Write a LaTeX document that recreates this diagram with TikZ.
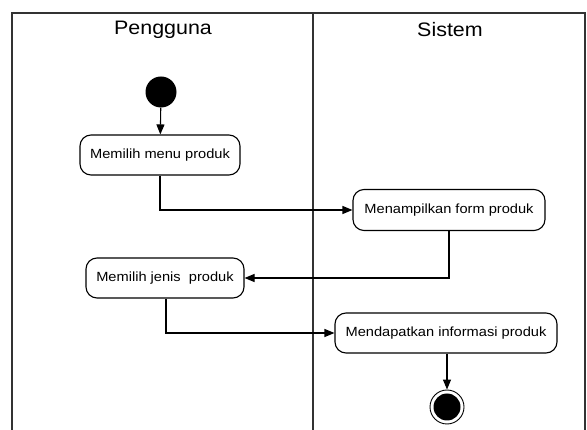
\documentclass[tikz,border=0pt]{standalone}
\usepackage{fontspec}
\setmainfont{Liberation Sans}[FakeStretch=1.1]
\usetikzlibrary{arrows.meta}
\tikzset{
  lane/.style={draw=black!80, line width=1.3pt},
  act/.style={draw=black, line width=1.1pt, rounded corners=11pt, fill=white,
    font=\fontsize{13.3}{15}\selectfont, inner sep=0pt, align=center},
  flow/.style={draw=black, line width=1.1pt, -{Triangle[length=10pt,width=8pt]}},
  startnode/.style={circle, fill=black, inner sep=0pt, minimum size=31pt},
  endnode/.style={circle, draw=black, line width=0.9pt, fill=white, inner sep=0pt, minimum size=34pt},
  hdr/.style={font=\fontsize{19.5}{22}\selectfont}
}
\begin{document}
\begin{tikzpicture}[x=1pt,y=-1pt]
\useasboundingbox (0,0) rectangle (587,430);
% swimlanes
\draw[lane] (12,432) -- (12,13) -- (585,13) -- (585,432);
\draw[lane] (313,13) -- (313,432);
\node[hdr] (h1) at (163,30) {Pengguna};
\node[hdr] (h2) at (450,30) {Sistem};
% nodes
\node[startnode] (start) at (161,92) {};
\node[act, minimum width=160pt, minimum height=40pt] (a1) at (160,155) {Memilih menu produk};
\node[act, minimum width=192pt, minimum height=41pt] (a2) at (449,210) {Menampilkan form produk};
\node[act, minimum width=158pt, minimum height=40pt] (a3) at (165,278) {Memilih jenis\ \ produk};
\node[act, minimum width=222pt, minimum height=40pt] (a4) at (446,333) {Mendapatkan informasi produk};
\node[endnode] (end) at (447,407) {};
\node[circle, fill=black, inner sep=0pt, minimum size=27pt] (endin) at (end) {};
% flows
\draw[flow] (start) -- (a1);
\draw[flow] (a1.south) |- (a2.west);
\draw[flow] (a2.south) |- (a3.east);
\draw[flow] ([xshift=1pt]a3.south) |- (a4.west);
\draw[flow] ([xshift=1pt]a4.south) -- (end);
\end{tikzpicture}
\end{document}
